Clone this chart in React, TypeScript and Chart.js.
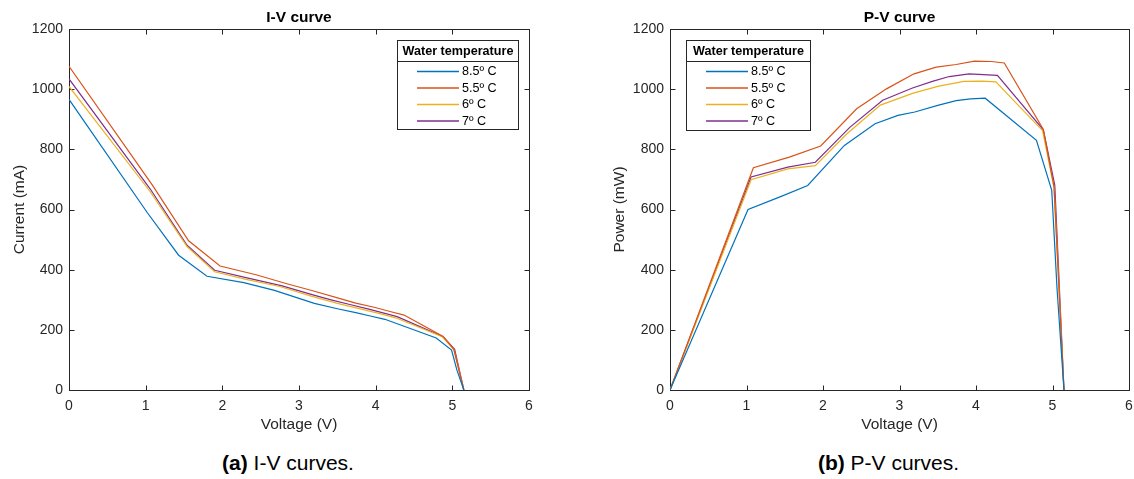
import React, { useEffect, useRef } from "react";
import { Chart, registerables } from "chart.js";

Chart.register(...registerables);

// ---------- data ----------
const SERIES_LABELS = ["8.5º C", "5.5º C", "6º C", "7º C"];
const SERIES_COLORS = ["#0072BD", "#D95319", "#EDB120", "#7E2F8E"];

const X_TICKS = [0, 1, 2, 3, 4, 5, 6];
const Y_TICKS = [0, 200, 400, 600, 800, 1000, 1200];

// 8.5 ºC
const VOLT_85 = [0, 1.02, 1.43, 1.8, 2.28, 2.68, 2.98, 3.2, 3.5, 3.74, 3.93, 4.12, 4.79, 4.99, 5.06, 5.15];
const CURR_85 = [966, 590, 448, 378, 357, 331, 306, 288, 270, 257, 246, 235, 173, 133, 66, 0];
const POW_85 = [0, 600, 641, 680, 813, 885, 913, 924, 946, 962, 968, 970, 830, 664, 334, 0];

// 5.5 ºC
const VOLT_55 = [0, 1.09, 1.56, 1.97, 2.44, 2.83, 3.19, 3.48, 3.74, 3.98, 4.2, 4.37, 4.88, 5.02, 5.15];
const CURR_55 = [1076, 680, 496, 412, 383, 354, 329, 308, 289, 275, 260, 249, 178, 135, 0];
const POW_55 = [0, 739, 774, 811, 935, 1001, 1051, 1073, 1082, 1093, 1092, 1087, 866, 675, 0];

// 6 ºC
const VOLT_6 = [0, 1.06, 1.54, 1.9, 2.31, 2.75, 3.17, 3.5, 3.84, 4.08, 4.26, 4.87, 5.02, 5.15];
const CURR_6 = [1009, 659, 477, 393, 368, 344, 311, 288, 267, 252, 240, 177, 134, 0];
const POW_6 = [0, 699, 735, 746, 851, 947, 986, 1009, 1026, 1027, 1024, 862, 673, 0];

// 7 ºC
const VOLT_7 = [0, 1.06, 1.54, 1.9, 2.35, 2.78, 3.17, 3.43, 3.65, 3.91, 4.28, 4.88, 5.03, 5.15];
const CURR_7 = [1034, 668, 481, 398, 371, 346, 317, 299, 285, 269, 244, 177, 135, 0];
const POW_7 = [0, 708, 741, 757, 873, 963, 1004, 1026, 1042, 1051, 1046, 865, 680, 0];

const VOLTS = [VOLT_85, VOLT_55, VOLT_6, VOLT_7];
const CURRENTS = [CURR_85, CURR_55, CURR_6, CURR_7];
const POWERS = [POW_85, POW_55, POW_6, POW_7];

// ---------- styling ----------
const FONT = '"Liberation Sans", Arial, Helvetica, sans-serif';
const AXIS_COLOR = "#262626";
const CANVAS_H = 440;
const PLOT_TOP = 29;
const PLOT_BOTTOM = 390;
const TICK_LEN = 5;

const matlabPlugin = {
  id: "matlab",
  beforeDatasetsDraw(chart: any, _args: any, opts: any) {
    const { ctx, chartArea: a, scales } = chart;
    const L = Math.round(a.left) + 0.5;
    const R = Math.round(a.right) + 0.5;
    const T = Math.round(a.top) + 0.5;
    const B = Math.round(a.bottom) + 0.5;
    ctx.save();
    ctx.strokeStyle = AXIS_COLOR;
    ctx.lineWidth = 1;
    ctx.beginPath();
    X_TICKS.forEach((v) => {
      const px = Math.round(scales.x.getPixelForValue(v)) + 0.5;
      ctx.moveTo(px, B);
      ctx.lineTo(px, B - TICK_LEN);
      ctx.moveTo(px, T);
      ctx.lineTo(px, T + TICK_LEN);
    });
    Y_TICKS.forEach((v) => {
      const py = Math.round(scales.y.getPixelForValue(v)) + 0.5;
      ctx.moveTo(L, py);
      ctx.lineTo(L + TICK_LEN, py);
      ctx.moveTo(R, py);
      ctx.lineTo(R - TICK_LEN, py);
    });
    ctx.stroke();
    ctx.strokeRect(L, T, R - L, B - T);
    ctx.restore();
  },
  afterDraw(chart: any, _args: any, opts: any) {
    const { ctx, chartArea: a } = chart;
    ctx.save();
    // title
    ctx.fillStyle = "#000";
    ctx.font = `bold 15.5px ${FONT}`;
    ctx.textAlign = "center";
    ctx.textBaseline = "middle";
    ctx.fillText(opts.title, (a.left + a.right) / 2, 18);

    // legend
    const lg = opts.legend;
    ctx.fillStyle = "#fff";
    ctx.fillRect(lg.x, lg.y, lg.w, lg.h);
    ctx.strokeStyle = AXIS_COLOR;
    ctx.lineWidth = 1;
    ctx.strokeRect(lg.x + 0.5, lg.y + 0.5, lg.w, lg.h);
    ctx.beginPath();
    ctx.moveTo(lg.x, lg.y + 21.5);
    ctx.lineTo(lg.x + lg.w, lg.y + 21.5);
    ctx.stroke();
    ctx.fillStyle = "#000";
    ctx.font = `bold 12.6px ${FONT}`;
    ctx.textAlign = "center";
    ctx.fillText("Water temperature", lg.x + lg.w / 2 + 0.5, lg.y + 12);
    ctx.font = `12.6px ${FONT}`;
    ctx.textAlign = "left";
    chart.data.datasets.forEach((ds: any, i: number) => {
      const yy = lg.y + 31.5 + i * 16.5;
      ctx.strokeStyle = ds.borderColor;
      ctx.lineWidth = 1.3;
      ctx.beginPath();
      ctx.moveTo(lg.x + 20, yy);
      ctx.lineTo(lg.x + 62, yy);
      ctx.stroke();
      ctx.fillStyle = "#000";
      ctx.fillText(ds.label, lg.x + 65, yy + 0.5);
    });
    ctx.restore();
  },
};

function buildConfig(p: {
  width: number;
  plotLeft: number;
  plotRight: number;
  title: string;
  yTitle: string;
  yTitlePad: number;
  values: number[][];
  legend: { x: number; y: number; w: number; h: number };
}) {
  return {
    type: "line" as const,
    data: {
      datasets: SERIES_LABELS.map((label, i) => ({
        label,
        data: VOLTS[i].map((v, j) => ({ x: v, y: p.values[i][j] })),
        borderColor: SERIES_COLORS[i],
        backgroundColor: SERIES_COLORS[i],
        borderWidth: 1.2,
        pointRadius: 0,
        fill: false,
        tension: 0,
      })),
    },
    options: {
      responsive: false,
      animation: false as const,
      events: [],
      layout: {
        padding: { left: 0, top: PLOT_TOP, right: p.width - p.plotRight, bottom: 0 },
      },
      plugins: {
        legend: { display: false },
        tooltip: { enabled: false },
        title: { display: false },
        matlab: { title: p.title, legend: p.legend },
      },
      scales: {
        x: {
          type: "linear" as const,
          min: 0,
          max: 6,
          grid: { display: false, drawTicks: false },
          border: { display: false },
          ticks: {
            color: AXIS_COLOR,
            font: { family: FONT, size: 14 },
            padding: 8,
            maxRotation: 0,
            autoSkip: false,
            callback: (v: any) => String(v),
          },
          afterBuildTicks: (s: any) => {
            s.ticks = X_TICKS.map((v) => ({ value: v }));
          },
          afterFit: (s: any) => {
            s.height = CANVAS_H - PLOT_BOTTOM;
          },
          title: {
            display: true,
            text: "Voltage (V)",
            color: AXIS_COLOR,
            font: { family: FONT, size: 15.5 },
            padding: { top: 0, bottom: 5.7 },
          },
        },
        y: {
          type: "linear" as const,
          min: 0,
          max: 1200,
          grid: { display: false, drawTicks: false },
          border: { display: false },
          ticks: {
            color: AXIS_COLOR,
            font: { family: FONT, size: 14 },
            padding: 6,
            autoSkip: false,
            callback: (v: any) => String(v),
          },
          afterBuildTicks: (s: any) => {
            s.ticks = Y_TICKS.map((v) => ({ value: v }));
          },
          afterFit: (s: any) => {
            s.width = p.plotLeft;
          },
          title: {
            display: true,
            text: p.yTitle,
            color: AXIS_COLOR,
            font: { family: FONT, size: 15.5 },
            padding: { top: p.yTitlePad, bottom: 0 },
          },
        },
      },
    },
    plugins: [matlabPlugin],
  };
}

function ChartCanvas(props: { width: number; left: number; config: any }) {
  const ref = useRef<HTMLCanvasElement | null>(null);
  useEffect(() => {
    if (!ref.current) return;
    const chart = new Chart(ref.current, props.config);
    return () => chart.destroy();
  }, []);
  return (
    <canvas
      ref={ref}
      width={props.width}
      height={CANVAS_H}
      style={{ position: "absolute", left: props.left, top: 0, width: props.width, height: CANVAS_H }}
    />
  );
}

const captionStyle = (center: number): React.CSSProperties => ({
  position: "absolute",
  left: center,
  top: 452,
  transform: "translateX(-50%)",
  fontFamily: FONT,
  fontSize: 21,
  lineHeight: "22px",
  color: "#000",
  whiteSpace: "nowrap",
});

export default function App() {
  const ivConfig = buildConfig({
    width: 560,
    plotLeft: 69,
    plotRight: 529,
    title: "I-V curve",
    yTitle: "Current (mA)",
    yTitlePad: 10.3,
    values: CURRENTS,
    legend: { x: 397, y: 40, w: 121, h: 89 },
  });
  const pvConfig = buildConfig({
    width: 600,
    plotLeft: 110,
    plotRight: 569,
    title: "P-V curve",
    yTitle: "Power (mW)",
    yTitlePad: 50.9,
    values: POWERS,
    legend: { x: 126, y: 40, w: 124, h: 90 },
  });
  return (
    <div
      style={{
        position: "fixed",
        left: 0,
        top: 0,
        width: 1134,
        height: 479,
        background: "#fff",
        overflow: "hidden",
      }}
    >
      <ChartCanvas width={560} left={0} config={ivConfig} />
      <ChartCanvas width={600} left={560} config={pvConfig} />
      <div style={captionStyle(288)}>
        <b>(a)</b> I-V curves.
      </div>
      <div style={captionStyle(888.5)}>
        <b>(b)</b> P-V curves.
      </div>
    </div>
  );
}
